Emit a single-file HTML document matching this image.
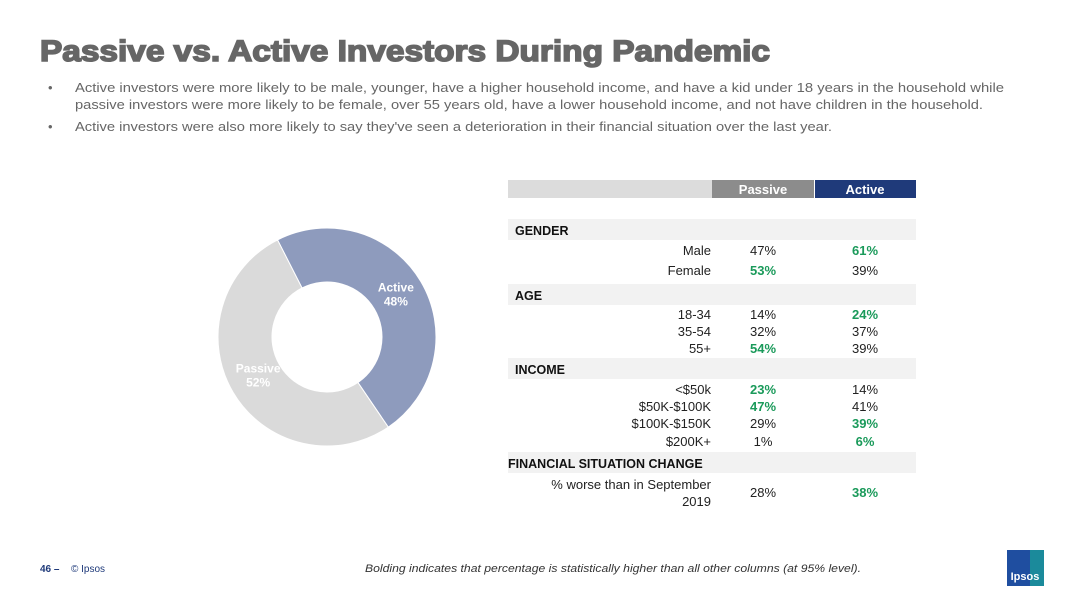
<!DOCTYPE html>
<html><head><meta charset="utf-8"><style>
body{margin:0;background:#fff;}
svg{display:block;font-family:"Liberation Sans",sans-serif;}
</style></head><body>
<svg id="s" width="1080" height="608" viewBox="0 0 1080 608">
<text x="40" y="61" font-size="30" font-weight="bold" fill="#666" textLength="730" lengthAdjust="spacingAndGlyphs" stroke="#666" stroke-width="1.6">Passive vs. Active Investors During Pandemic</text>
<g fill="#666" font-size="13">
<text x="48" y="92">•</text>
<text x="75" y="92" textLength="929" lengthAdjust="spacingAndGlyphs">Active investors were more likely to be male, younger, have a higher household income, and have a kid under 18 years in the household while</text>
<text x="75" y="109" textLength="908" lengthAdjust="spacingAndGlyphs">passive investors were more likely to be female, over 55 years old, have a lower household income, and not have children in the household.</text>
<text x="48" y="131">•</text>
<text x="75" y="131" textLength="757" lengthAdjust="spacingAndGlyphs">Active investors were also more likely to say they've seen a deterioration in their financial situation over the last year.</text>
</g>
<g id="donut"></g>
<g id="table"></g>
<text x="40" y="572" font-size="10" font-weight="bold" fill="#1f3a7a">46 –</text>
<text x="71" y="572" font-size="10" fill="#1f3a7a">© Ipsos</text>
<text x="365" y="572" font-size="11" font-style="italic" fill="#333" textLength="496" lengthAdjust="spacingAndGlyphs">Bolding indicates that percentage is statistically higher than all other columns (at 95% level).</text>
<g>
<rect x="1007" y="550" width="37" height="36" fill="#1f4ea0"/>
<rect x="1030" y="550" width="14" height="36" fill="#1a9a9a" opacity="0.8"/>
<text x="1025" y="580" font-size="11" fill="#fff" text-anchor="middle" font-weight="bold">Ipsos</text>
</g>
</svg>
<script>
const donutLabels=["Active","Passive"];
const donutValues=[48,52];
const donutColors=["#8e9bbd","#dadada"];
const categories=["Male","Female","18-34","35-54","55+","<$50k","$50K-$100K","$100K-$150K","$200K+","% worse than in September 2019"];
const passiveVals=[47,53,14,32,54,23,47,29,1,28];
const activeVals=[61,39,24,37,39,14,41,39,6,38];
const passiveBold=[0,1,0,0,1,1,1,0,0,0];
const activeBold=[1,0,1,0,0,0,0,1,1,1];
const NS="http://www.w3.org/2000/svg";
function mk(t,a,p){const e=document.createElementNS(NS,t);for(const k in a)e.setAttribute(k,a[k]);p.appendChild(e);return e;}
// donut
const dg=document.getElementById('donut');
const cx=327,cy=337,R=109,r=55,start=-27;
let tot=donutValues.reduce((a,b)=>a+b,0),ang=start;
function pt(a,rad){const t=(a-90)*Math.PI/180;return [cx+rad*Math.cos(t),cy+rad*Math.sin(t)];}
donutValues.forEach((v,i)=>{
 const a0=ang,a1=ang+v/tot*360;ang=a1;
 const lg=(a1-a0)>180?1:0;
 const [x0,y0]=pt(a0,R),[x1,y1]=pt(a1,R),[x2,y2]=pt(a1,r),[x3,y3]=pt(a0,r);
 const p=mk('path',{d:`M${x0},${y0}A${R},${R} 0 ${lg} 1 ${x1},${y1}L${x2},${y2}A${r},${r} 0 ${lg} 0 ${x3},${y3}Z`,fill:donutColors[i],stroke:'#fff','stroke-width':1},dg);
 
 
 const mid=(a0+a1)/2;const [lx,ly]=pt(mid,80);
 const t=mk('text',{x:lx,y:ly-5,'font-size':12,'font-weight':'bold',fill:'#fff','text-anchor':'middle'},dg);
 t.textContent=donutLabels[i];
 
 
 const t2=mk('text',{x:lx,y:ly+9,'font-size':12,'font-weight':'bold',fill:'#fff','text-anchor':'middle'},dg);
 t2.textContent=v+'%';
 
 
});
// table
const tg=document.getElementById('table');
mk('rect',{x:508,y:180,width:204,height:18,fill:'#dcdcdc'},tg);
mk('rect',{x:712,y:180,width:102,height:18,fill:'#8c8c8c'},tg);
mk('rect',{x:815,y:180,width:101,height:18,fill:'#1f3a7a'},tg);
let h=mk('text',{x:763,y:194,'font-size':13,'font-weight':'bold',fill:'#fff','text-anchor':'middle'},tg);h.textContent='Passive';


h=mk('text',{x:865,y:194,'font-size':13,'font-weight':'bold',fill:'#fff','text-anchor':'middle'},tg);h.textContent='Active';


const sections=[["GENDER",230],["AGE",295],["INCOME",369],["FINANCIAL SITUATION CHANGE",463]];
sections.forEach(([s,y])=>{
 mk('rect',{x:508,y:y-11,width:408,height:21,fill:'#f2f2f2'},tg);
 const t=mk('text',{x:s.length>10?508:515,y:y+5,'font-size':12.5,'font-weight':'bold',fill:'#111'},tg);t.textContent=s;
 
 
});
const rowY=[250,270,314,331,348,389,406,423,441,492];
categories.forEach((c,i)=>{
 const y=rowY[i]+5;
 if(i===9){
  const a=mk('text',{x:711,y:y-8,'font-size':13,fill:'#222','text-anchor':'end'},tg);a.textContent='% worse than in September';
  
  
  const b=mk('text',{x:711,y:y+9,'font-size':13,fill:'#222','text-anchor':'end'},tg);b.textContent='2019';
  
  
 } else {
  const a=mk('text',{x:711,y:y,'font-size':13,fill:'#222','text-anchor':'end'},tg);a.textContent=c;
  
  
 }
 const p=mk('text',{x:763,y:y,'font-size':13,fill:passiveBold[i]?'#1a9a5a':'#222','font-weight':passiveBold[i]?'bold':'normal','text-anchor':'middle'},tg);p.textContent=passiveVals[i]+'%';
 
 
 const q=mk('text',{x:865,y:y,'font-size':13,fill:activeBold[i]?'#1a9a5a':'#222','font-weight':activeBold[i]?'bold':'normal','text-anchor':'middle'},tg);q.textContent=activeVals[i]+'%';
 
 
});
</script>
</body></html>
